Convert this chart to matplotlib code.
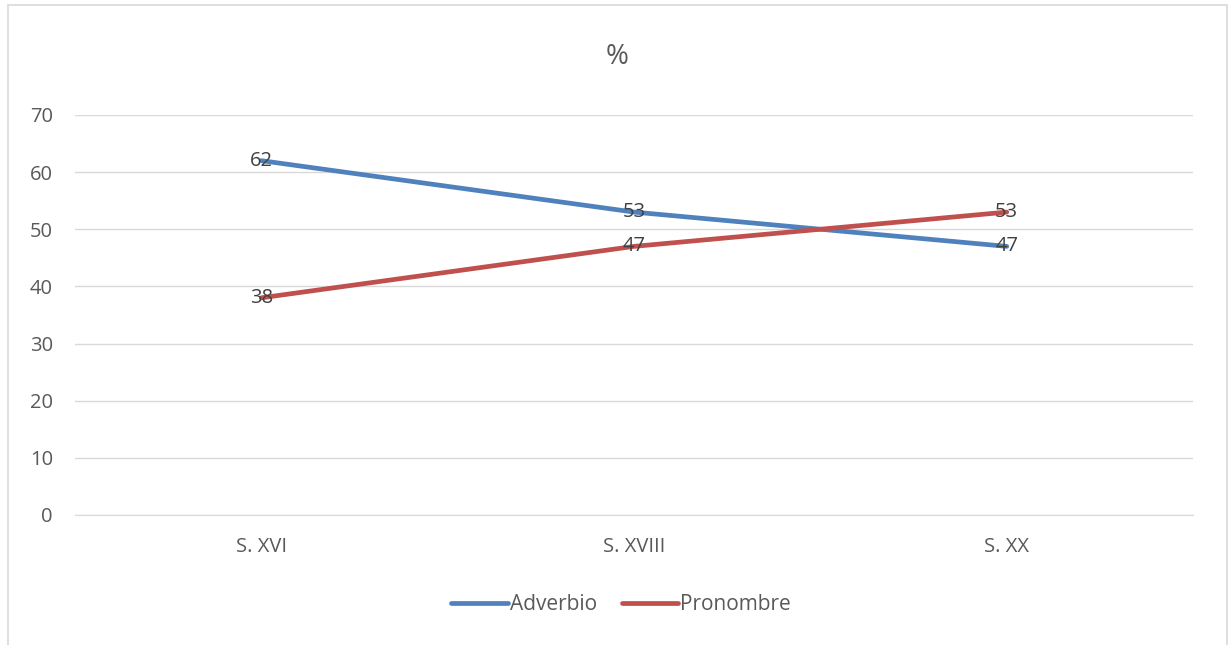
import matplotlib
matplotlib.use('Agg')
import matplotlib.pyplot as plt
from matplotlib.patches import Rectangle

# data
categories = ['S. XVI', 'S. XVIII', 'S. XX']
adverbio = [62, 53, 47]
pronombre = [38, 47, 53]
y_ticks = [0, 10, 20, 30, 40, 50, 60, 70]

plt.rcParams['font.family'] = ['Open Sans', 'DejaVu Sans']

fig = plt.figure(figsize=(12.3, 6.45), dpi=100)
ax = fig.add_axes([0.061, 0.2016, 0.909, 0.6202])

# outer chart frame (open at the bottom, as in the clipped screenshot)
fig.patches.append(Rectangle((8 / 1230, -0.1), 1219 / 1230, 1.1 - 5 / 645,
                             transform=fig.transFigure, fill=False,
                             edgecolor='#D9D9D9', linewidth=1.2))

x = list(range(len(categories)))
ax.plot(x, adverbio, color='#4F81BD', lw=3.4, label='Adverbio',
        solid_capstyle='round', zorder=3)
ax.plot(x, pronombre, color='#C0504D', lw=3.4, label='Pronombre',
        solid_capstyle='round', zorder=3)

for xi, v in zip(x, adverbio):
    ax.text(xi, v, str(v), ha='center', va='center', fontsize=14.5,
            color='#404040', zorder=4)
for xi, v in zip(x, pronombre):
    ax.text(xi, v, str(v), ha='center', va='center', fontsize=14.5,
            color='#404040', zorder=4)

ax.set_xlim(-0.5, 2.5)
ax.set_ylim(0, 70)
ax.set_yticks(y_ticks)
ax.set_xticks(x)
ax.set_xticklabels(categories)
ax.grid(axis='y', color='#D9D9D9', lw=1)
ax.set_axisbelow(True)
for s in ['top', 'right', 'left']:
    ax.spines[s].set_visible(False)
ax.spines['bottom'].set_color('#D9D9D9')
ax.tick_params(axis='both', length=0, colors='#595959', labelsize=14.5)
ax.tick_params(axis='y', pad=16)
ax.tick_params(axis='x', pad=16)

fig.text(617 / 1230, 1 - 57 / 645, '%', ha='center', va='center',
         fontsize=20, color='#595959')

fig.legend(loc='center', bbox_to_anchor=(0.505, 1 - 605 / 645), ncol=2,
           frameon=False, fontsize=15, handlelength=2.7, handletextpad=0.1,
           columnspacing=1.2, labelcolor='#595959')

fig.savefig('out.png', dpi=100)
